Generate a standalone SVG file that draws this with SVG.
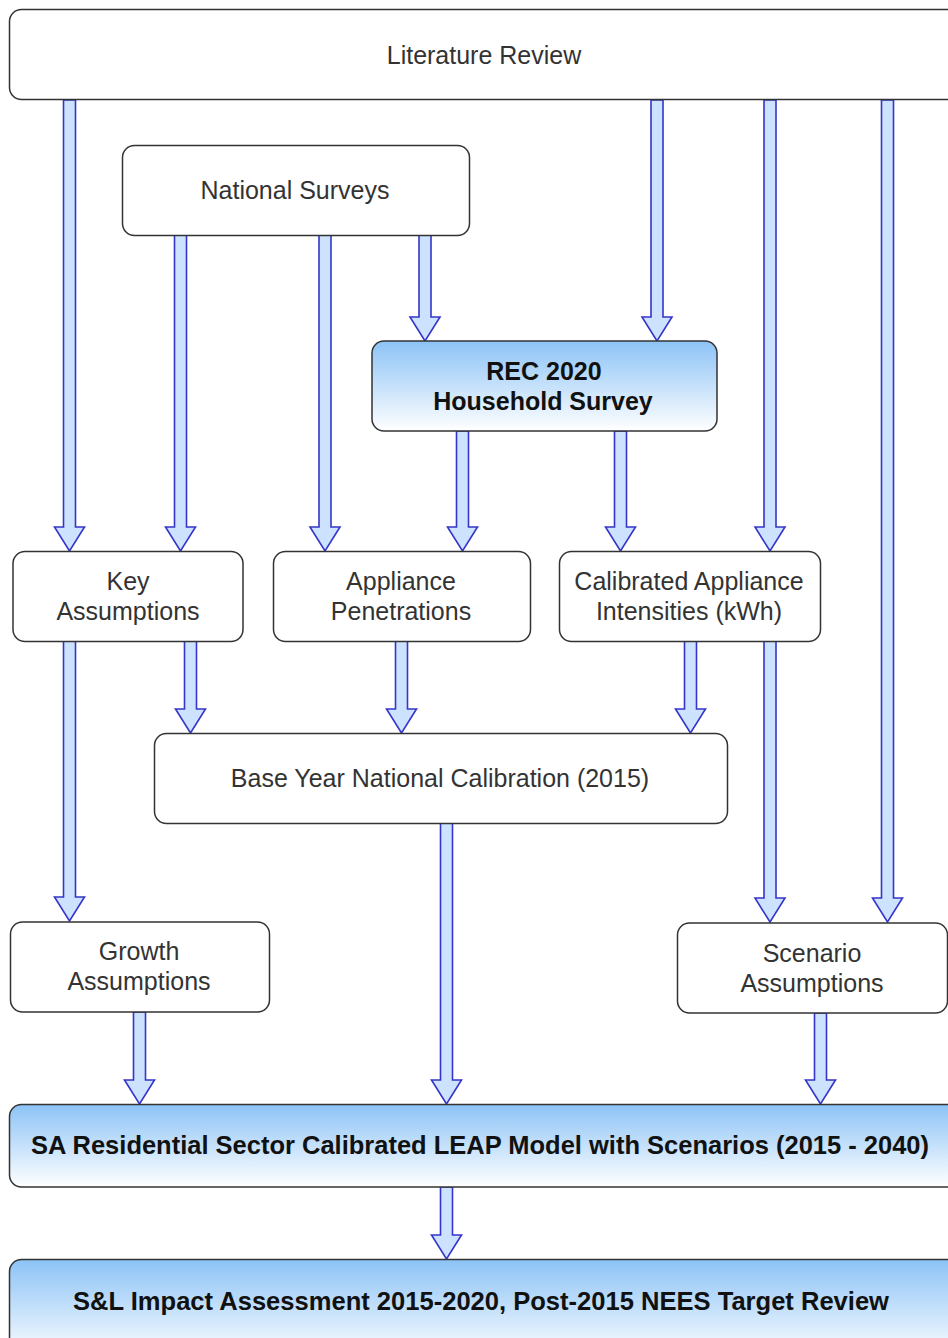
<svg xmlns="http://www.w3.org/2000/svg" width="948" height="1338" viewBox="0 0 948 1338">
<defs>
<linearGradient id="blue" x1="0" y1="0" x2="0" y2="1">
<stop offset="0" stop-color="#8cc3f6"/>
<stop offset="1" stop-color="#ffffff"/>
</linearGradient>
</defs>
<style>
.box{fill:#ffffff;stroke:#333333;stroke-width:1.5}
.gbox{fill:url(#blue);stroke:#333333;stroke-width:1.5}
.t{font-family:"Liberation Sans",Arial,sans-serif;font-size:25px;fill:#333333;text-anchor:middle}
.b{font-family:"Liberation Sans",Arial,sans-serif;font-size:25px;font-weight:bold;fill:#111111;text-anchor:middle}
.arr{fill:#cce2ff;stroke:#3535c8;stroke-width:1.6;stroke-linejoin:miter}
</style>
<rect width="948" height="1338" fill="#ffffff"/>
<g id="connectors">
<path class="arr" d="M63.5 100 V527 H54.5 L69.5 551 L84.5 527 H75.5 V100 Z"/>
<path class="arr" d="M174.5 235 V527 H165.5 L180.5 551 L195.5 527 H186.5 V235 Z"/>
<path class="arr" d="M319 235 V527 H310 L325 551 L340 527 H331 V235 Z"/>
<path class="arr" d="M419 235 V317 H410 L425 341 L440 317 H431 V235 Z"/>
<path class="arr" d="M651 100 V317 H642 L657 341 L672 317 H663 V100 Z"/>
<path class="arr" d="M764 100 V527 H755 L770 551 L785 527 H776 V100 Z"/>
<path class="arr" d="M881.5 100 V898 H872.5 L887.5 922 L902.5 898 H893.5 V100 Z"/>
<path class="arr" d="M456.5 431 V527 H447.5 L462.5 551 L477.5 527 H468.5 V431 Z"/>
<path class="arr" d="M614.5 431 V527 H605.5 L620.5 551 L635.5 527 H626.5 V431 Z"/>
<path class="arr" d="M184.5 641 V709 H175.5 L190.5 733 L205.5 709 H196.5 V641 Z"/>
<path class="arr" d="M395.5 641 V709 H386.5 L401.5 733 L416.5 709 H407.5 V641 Z"/>
<path class="arr" d="M684.5 641 V709 H675.5 L690.5 733 L705.5 709 H696.5 V641 Z"/>
<path class="arr" d="M63.5 641 V897 H54.5 L69.5 921 L84.5 897 H75.5 V641 Z"/>
<path class="arr" d="M764 641 V898 H755 L770 922 L785 898 H776 V641 Z"/>
<path class="arr" d="M440.5 823 V1080 H431.5 L446.5 1104 L461.5 1080 H452.5 V823 Z"/>
<path class="arr" d="M133.5 1012 V1080 H124.5 L139.5 1104 L154.5 1080 H145.5 V1012 Z"/>
<path class="arr" d="M814.5 1013 V1080 H805.5 L820.5 1104 L835.5 1080 H826.5 V1013 Z"/>
<path class="arr" d="M440.5 1187 V1235 H431.5 L446.5 1259 L461.5 1235 H452.5 V1187 Z"/>
</g>
<g id="literature-review">
<rect class="box" x="9.5" y="9.5" width="960" height="90" rx="12"/>
<text class="t" x="484" y="64">Literature Review</text>
</g>
<g id="national-surveys">
<rect class="box" x="122.5" y="145.5" width="347" height="90" rx="12"/>
<text class="t" x="295" y="199">National Surveys</text>
</g>
<g id="rec-2020">
<rect class="gbox" x="372" y="341" width="345" height="90" rx="12"/>
<text class="b" x="544" y="380">REC 2020</text>
<text class="b" x="543" y="410">Household Survey</text>
</g>
<g id="key-assumptions">
<rect class="box" x="13" y="551.5" width="230" height="90" rx="12"/>
<text class="t" x="128" y="590">Key</text>
<text class="t" x="128" y="620">Assumptions</text>
</g>
<g id="appliance-penetrations">
<rect class="box" x="273.5" y="551.5" width="257" height="90" rx="12"/>
<text class="t" x="401" y="590">Appliance</text>
<text class="t" x="401" y="620">Penetrations</text>
</g>
<g id="calibrated-intensities">
<rect class="box" x="559.5" y="551.5" width="261" height="90" rx="12"/>
<text class="t" x="689" y="590">Calibrated Appliance</text>
<text class="t" x="689" y="620">Intensities (kWh)</text>
</g>
<g id="base-year">
<rect class="box" x="154.5" y="733.5" width="573" height="90" rx="12"/>
<text class="t" x="440" y="787">Base Year National Calibration (2015)</text>
</g>
<g id="growth-assumptions">
<rect class="box" x="10.5" y="922" width="259" height="90" rx="12"/>
<text class="t" x="139" y="960">Growth</text>
<text class="t" x="139" y="990">Assumptions</text>
</g>
<g id="scenario-assumptions">
<rect class="box" x="677.5" y="923" width="270" height="90" rx="12"/>
<text class="t" x="812" y="962">Scenario</text>
<text class="t" x="812" y="992">Assumptions</text>
</g>
<g id="leap-model">
<rect class="gbox" x="9.5" y="1104.5" width="960" height="82.5" rx="12"/>
<text class="b" x="480" y="1154" textLength="898" lengthAdjust="spacingAndGlyphs">SA Residential Sector Calibrated LEAP Model with Scenarios (2015 - 2040)</text>
</g>
<g id="impact-assessment">
<rect class="gbox" x="9.5" y="1259.5" width="960" height="100" rx="12"/>
<text class="b" x="481" y="1310" textLength="816" lengthAdjust="spacingAndGlyphs">S&amp;L Impact Assessment 2015-2020, Post-2015 NEES Target Review</text>
</g>
</svg>
